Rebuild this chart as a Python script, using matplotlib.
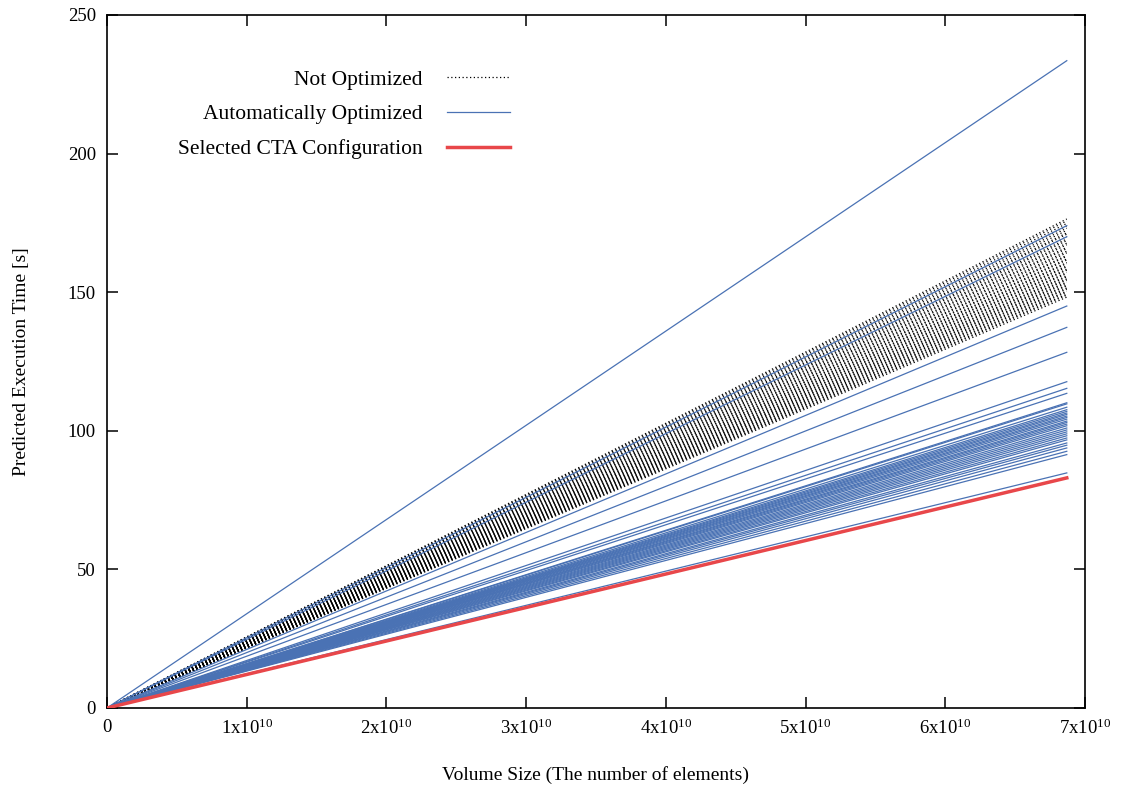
import matplotlib
matplotlib.use("Agg")
import matplotlib.pyplot as plt

plt.rcParams['font.family'] = ['Liberation Serif', 'DejaVu Serif']
plt.rcParams['mathtext.fontset'] = 'custom'
plt.rcParams['mathtext.rm'] = 'Liberation Serif'
plt.rcParams['mathtext.default'] = 'regular'

# volume range of every prediction line (elements)
volume = [0, 6.87e10]

# predicted time at the largest volume, one value per CTA configuration [s]
not_optimized = [176.4, 175.7, 174.8, 173.9, 173.1, 172.3, 171.4, 170.9, 170.0, 169.2,
                 168.6, 167.7, 167.1, 166.2, 165.7, 164.8, 164.2, 163.3, 162.9, 162.0,
                 161.6, 160.7, 160.3, 159.5, 159.1, 158.3, 157.9, 157.1, 156.7, 155.9,
                 155.5, 154.8, 154.4, 153.7, 153.3, 152.6, 152.2, 151.5, 151.1, 150.4,
                 150.0, 149.3, 148.9, 148.2]
auto_optimized = [233.5, 174.0, 170.0, 145.0, 137.3, 128.3, 117.7, 115.3, 113.5, 110.1,
                  109.7, 108.5, 107.6, 107.0, 106.4, 105.9, 105.3, 104.8, 104.2, 103.5,
                  103.0, 102.4, 101.8, 101.0, 100.3, 99.6, 98.9, 98.2, 97.4, 96.7,
                  95.6, 94.8, 93.8, 92.6, 91.4, 84.8]
selected = 83.0

blue = '#4a72b4'
red = '#e8474a'

fig = plt.figure(figsize=(11.25, 7.87), dpi=100)
ax = fig.add_axes([0.0951, 0.1004, 0.8693, 0.8806])

for i, t in enumerate(not_optimized):
    ax.plot(volume, [0, t], color='black', lw=0.9, ls=(0, (1, 2)),
            label='Not Optimized' if i == 0 else None, zorder=2)
for i, t in enumerate(auto_optimized):
    ax.plot(volume, [0, t], color=blue, lw=0.9,
            label='Automatically Optimized' if i == 0 else None, zorder=3)
ax.plot(volume, [0, selected], color=red, lw=2.5,
        label='Selected CTA Configuration', zorder=4)

ax.set_xlim(0, 7e10)
ax.set_ylim(0, 250)
xt = [0, 1e10, 2e10, 3e10, 4e10, 5e10, 6e10, 7e10]
ax.set_xticks(xt)
ax.set_xticklabels(['0'] + [r'%dx10$^{10}$' % k for k in range(1, 8)])
ax.set_yticks([0, 50, 100, 150, 200, 250])
ax.tick_params(direction='in', length=8, width=1.1, labelsize=13.5,
               top=True, right=True, pad=8)
for s in ax.spines.values():
    s.set_linewidth(1.2)

ax.set_xlabel('Volume Size (The number of elements)', fontsize=14, labelpad=20)
ax.set_ylabel('Predicted Execution Time [s]', fontsize=14, labelpad=27)

ax.legend(loc='upper right', bbox_to_anchor=(0.412, 0.921), frameon=False,
          markerfirst=False, fontsize=15.5, handlelength=2.9, handletextpad=1.15,
          labelspacing=0.68, borderpad=0, borderaxespad=0)

fig.savefig('out.png', dpi=100)
